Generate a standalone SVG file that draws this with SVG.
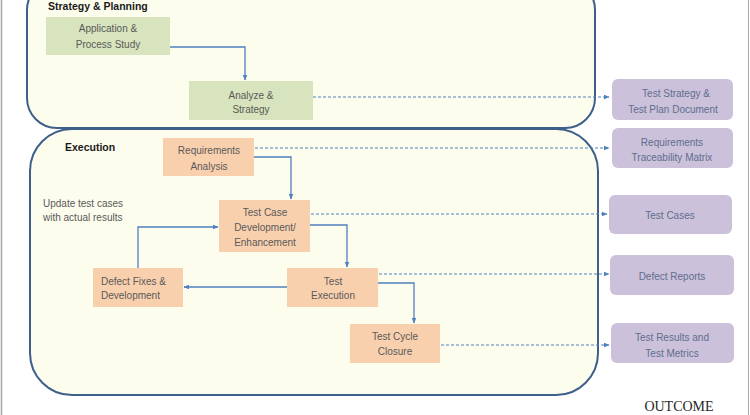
<svg xmlns="http://www.w3.org/2000/svg" width="750" height="415" viewBox="0 0 750 415">
<style>
.t{font-family:"Liberation Sans",Arial,sans-serif;font-size:10px;fill:#595959;text-anchor:middle}
.h{font-family:"Liberation Sans",Arial,sans-serif;font-size:10.5px;font-weight:bold;fill:#1a1a1a}
.o{font-family:"Liberation Sans",Arial,sans-serif;font-size:10px;fill:#5F6D8E;text-anchor:middle}
.g{fill:#D7E4BD}
.r{fill:#F9D0AE}
.p{fill:#CCC1DA}
.phase{fill:#FDFDEE;stroke:#3E5F8A;stroke-width:2}
.c{fill:none;stroke:#4F81BD;stroke-width:1.3}
.d{fill:none;stroke:#4F81BD;stroke-width:1;stroke-dasharray:3,2}
</style>
<defs>
<marker id="a" viewBox="0 0 10 10" refX="9" refY="5" markerWidth="6" markerHeight="6" orient="auto" markerUnits="userSpaceOnUse">
<path d="M0,1 L10,5 L0,9 z" fill="#4F81BD"/>
</marker>
</defs>
<rect x="0" y="0" width="750" height="415" fill="#fff"/>
<line x1="1.5" y1="0" x2="1.5" y2="415" stroke="#A6A6A6" stroke-width="1.5"/>
<line x1="748.5" y1="0" x2="748.5" y2="415" stroke="#A6A6A6" stroke-width="1"/>

<g id="strategy-planning">
<rect class="phase" x="27" y="-20" width="568" height="148" rx="30" ry="30"/>
<text class="h" x="48" y="10">Strategy &amp; Planning</text>
</g>
<g id="execution">
<rect class="phase" x="30" y="129" width="568" height="266" rx="42" ry="42"/>
<text class="h" x="65" y="151">Execution</text>
<text class="t" x="43" y="207" style="text-anchor:start">Update test cases</text>
<text class="t" x="43" y="221" style="text-anchor:start">with actual results</text>
</g>

<g id="connectors">
<path class="c" d="M170,47 H245 V80" marker-end="url(#a)"/>
<path class="d" d="M313,97 H609" marker-end="url(#a)"/>
<path class="c" d="M254,157 H291 V199" marker-end="url(#a)"/>
<path class="d" d="M255,148 H609" marker-end="url(#a)"/>
<path class="c" d="M310,225 H347 V267" marker-end="url(#a)"/>
<path class="d" d="M311,214 H607" marker-end="url(#a)"/>
<path class="c" d="M287,287 H184" marker-end="url(#a)"/>
<path class="c" d="M138,268 V227 H218" marker-end="url(#a)"/>
<path class="c" d="M378,283 H414 V323" marker-end="url(#a)"/>
<path class="d" d="M379,274 H609" marker-end="url(#a)"/>
<path class="d" d="M441,345 H609" marker-end="url(#a)"/>
</g>

<g id="app-process-study">
<rect class="g" x="46" y="17" width="124" height="38"/>
<text class="t" x="108" y="32">Application &amp;</text>
<text class="t" x="108" y="48">Process Study</text>
</g>
<g id="analyze-strategy">
<rect class="g" x="189" y="81" width="124" height="39"/>
<text class="t" x="251" y="99">Analyze &amp;</text>
<text class="t" x="251" y="113">Strategy</text>
</g>

<g id="requirements-analysis">
<rect class="r" x="163" y="138" width="91" height="38"/>
<text class="t" x="209" y="154">Requirements</text>
<text class="t" x="209" y="170">Analysis</text>
</g>
<g id="test-case-development">
<rect class="r" x="219" y="200" width="91" height="52"/>
<text class="t" x="265" y="216">Test Case</text>
<text class="t" x="265" y="231">Development/</text>
<text class="t" x="265" y="246">Enhancement</text>
</g>
<g id="defect-fixes">
<rect class="r" x="93" y="268" width="90" height="39"/>
<text class="t" x="101" y="285" style="text-anchor:start">Defect Fixes &amp;</text>
<text class="t" x="101" y="299" style="text-anchor:start">Development</text>
</g>
<g id="test-execution">
<rect class="r" x="287" y="268" width="91" height="39"/>
<text class="t" x="333" y="285">Test</text>
<text class="t" x="333" y="299">Execution</text>
</g>
<g id="test-cycle-closure">
<rect class="r" x="350" y="324" width="90" height="39"/>
<text class="t" x="395" y="340">Test Cycle</text>
<text class="t" x="395" y="355">Closure</text>
</g>

<g id="out-test-strategy">
<rect class="p" x="612" y="79" width="121" height="41" rx="6"/>
<text class="o" x="676" y="97">Test Strategy &amp;</text>
<text class="o" x="673" y="113">Test Plan Document</text>
</g>
<g id="out-rtm">
<rect class="p" x="612" y="128" width="121" height="40" rx="6"/>
<text class="o" x="672" y="146">Requirements</text>
<text class="o" x="672" y="161">Traceability  Matrix</text>
</g>
<g id="out-test-cases">
<rect class="p" x="609" y="195" width="123" height="39" rx="6"/>
<text class="o" x="670" y="219">Test Cases</text>
</g>
<g id="out-defect-reports">
<rect class="p" x="610" y="255" width="124" height="40" rx="6"/>
<text class="o" x="672" y="280">Defect Reports</text>
</g>
<g id="out-test-results">
<rect class="p" x="611" y="323" width="123" height="40" rx="6"/>
<text class="o" x="672" y="341">Test Results and</text>
<text class="o" x="672" y="357">Test Metrics</text>
</g>
<text x="679" y="411" style="font-family:'Liberation Serif','Times New Roman',serif;font-size:14px;fill:#262626;text-anchor:middle">OUTCOME</text>
</svg>
